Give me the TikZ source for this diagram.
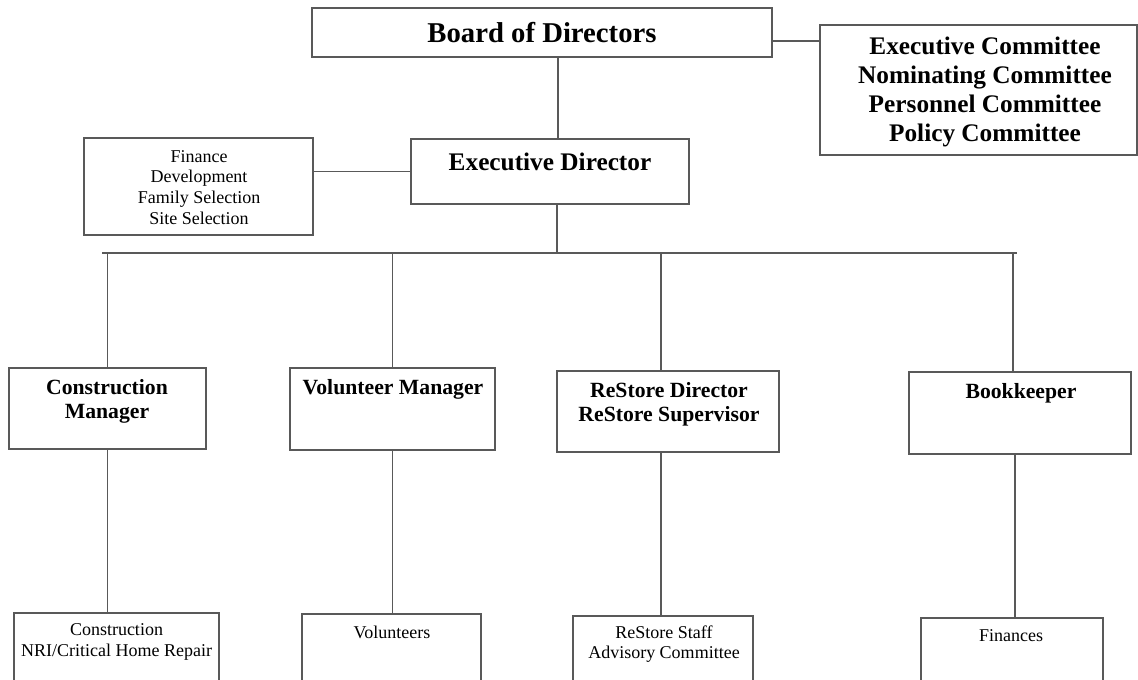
\documentclass[tikz,border=0pt]{standalone}
\usepackage{fontspec}
\setmainfont{Liberation Serif}
\begin{document}
\begin{tikzpicture}[x=1pt,y=-1pt,
    box/.style={draw=black!65, line width=1.8pt, inner sep=0pt},
    conn/.style={draw=black!65, line width=1.8pt},
    txt/.style={align=center, inner sep=0pt},
    boardfont/.style={font=\bfseries\fontsize{28.7}{34}\selectfont},
    headfont/.style={font=\bfseries\fontsize{25.3}{29.3}\selectfont},
    mgrfont/.style={font=\bfseries\fontsize{21.7}{24}\selectfont},
    unitfont/.style={font=\fontsize{18}{20.8}\selectfont}]
    \useasboundingbox (0,0) rectangle (1138,680);
    %% Board and committees
    \node[box, minimum width=460, minimum height=49, boardfont] (board) at (542,32.5) {Board of Directors};
    \node[box, minimum width=317, minimum height=130] (cmte) at (978.5,90) {};
    \node[txt, headfont] (cmte-t) at (985,92) {Executive Committee\\Nominating Committee\\Personnel Committee\\Policy Committee};
    \draw[conn] ([yshift=-8.5pt]board.east) -- ([yshift=-8.5pt]board.east -| cmte.west);
    %% Executive director and its tasks
    \node[box, minimum width=278, minimum height=65] (exec) at (550,171.5) {};
    \node[txt, headfont] (exec-t) at (550,162) {Executive Director};
    \node[box, minimum width=229, minimum height=97] (fin) at (198.5,186.5) {};
    \node[txt, unitfont] (fin-t) at (199,187.5) {Finance\\Development\\Family Selection\\Site Selection};
    \draw[conn] ([xshift=8pt]exec.north) -- ([xshift=8pt]exec.north |- board.south);
    \draw[conn] (exec.west -| fin.east) -- (exec.west);
    %% Bus line
    \coordinate (busL) at (102,253);
    \coordinate (busR) at (1017,253);
    \draw[conn] (busL) -- (busR);
    \draw[conn] ([xshift=7pt]exec.south) -- ([xshift=7pt]exec.south |- busL);
    %% Managers
    \node[box, minimum width=197, minimum height=81] (cm) at (107.5,408.5) {};
    \node[txt, mgrfont] (cm-t) at (107,401) {Construction\\Manager};
    \node[box, minimum width=205, minimum height=82] (vm) at (392.5,409) {};
    \node[txt, mgrfont] (vm-t) at (393,389) {Volunteer Manager};
    \node[box, minimum width=222, minimum height=81] (rd) at (668,411.5) {};
    \node[txt, mgrfont] (rd-t) at (669,404) {ReStore Director\\ReStore Supervisor};
    \node[box, minimum width=222, minimum height=82] (bk) at (1020,413) {};
    \node[txt, mgrfont] (bk-t) at (1021,393) {Bookkeeper};
    \draw[conn] (cm.north) -- (cm.north |- busL);
    \draw[conn] (vm.north) -- (vm.north |- busL);
    \draw[conn] ([xshift=-7pt]rd.north) -- ([xshift=-7pt]rd.north |- busL);
    \draw[conn] ([xshift=-7pt]bk.north) -- ([xshift=-7pt]bk.north |- busL);
    %% Units (cut off at the bottom)
    \node[box, minimum width=205, minimum height=90] (cw) at (116.5,658) {};
    \node[txt, unitfont] (cw-t) at (116.5,642) {Construction\\NRI/Critical Home Repair};
    \node[box, minimum width=179, minimum height=90] (vol) at (391.5,659) {};
    \node[txt, unitfont] (vol-t) at (392,632) {Volunteers};
    \node[box, minimum width=180, minimum height=90] (rs) at (663,661) {};
    \node[txt, unitfont] (rs-t) at (664,644) {ReStore Staff\\Advisory Committee};
    \node[box, minimum width=182, minimum height=90] (fn) at (1012,663) {};
    \node[txt, unitfont] (fn-t) at (1011,636) {Finances};
    \draw[conn] (cm.south) -- (cm.south |- cw.north);
    \draw[conn] (vm.south) -- (vm.south |- vol.north);
    \draw[conn] ([xshift=-7pt]rd.south) -- ([xshift=-7pt]rd.south |- rs.north);
    \draw[conn] ([xshift=-5pt]bk.south) -- ([xshift=-5pt]bk.south |- fn.north);
\end{tikzpicture}
\end{document}
